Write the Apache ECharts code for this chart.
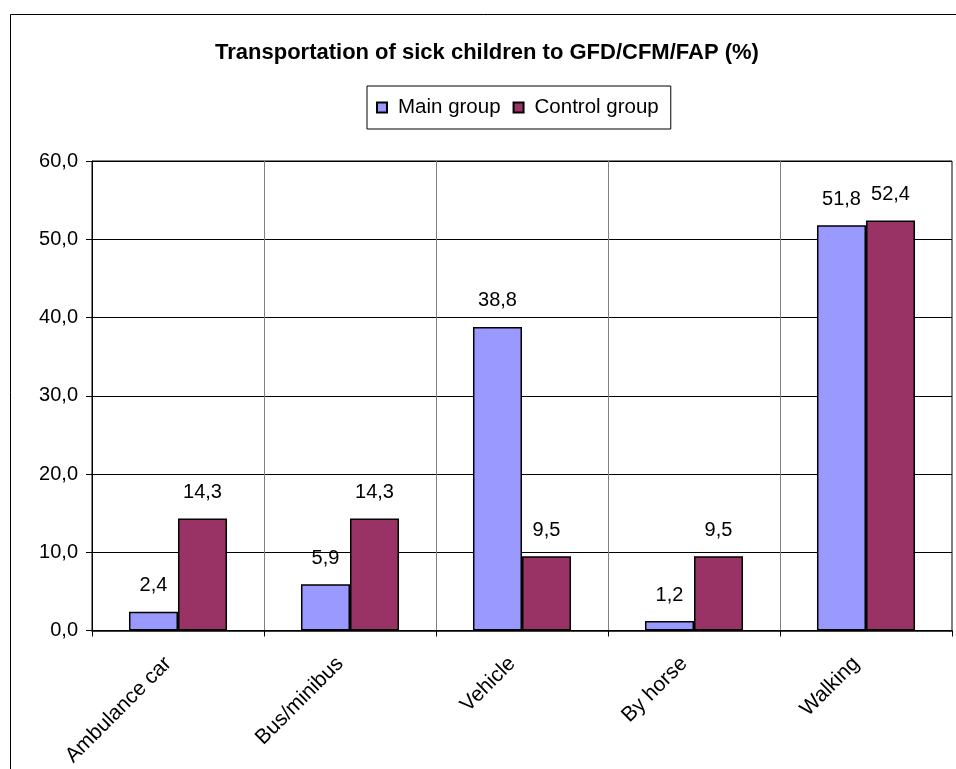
<!DOCTYPE html>
<html>
<head>
<meta charset="utf-8">
<script src="https://cdn.jsdelivr.net/npm/echarts@6/dist/echarts.min.js"></script>
<style>
  html, body { margin: 0; padding: 0; background: #fff; }
  #chart { width: 956px; height: 769px; }
</style>
</head>
<body>
<div id="chart"></div>
<script>
// Transport modes and shares (%) for both groups
const categories = ['Ambulance car', 'Bus/minibus', 'Vehicle', 'By horse', 'Walking'];
const mainGroup = [2.4, 5.9, 38.8, 1.2, 51.8];
const controlGroup = [14.3, 14.3, 9.5, 9.5, 52.4];
const seriesNames = ['Main group', 'Control group'];
const titleText = 'Transportation of sick children to GFD/CFM/FAP (%)';

const FONT = '"Liberation Sans", Arial, sans-serif';
const comma = v => Number(v).toFixed(1).replace('.', ',');

const chart = echarts.init(document.getElementById('chart'), null, { renderer: 'canvas' });

const labelStyle = {
  show: true,
  position: 'top',
  distance: 16,
  fontFamily: FONT,
  fontSize: 20,
  color: '#000',
  formatter: p => comma(p.value)
};

chart.setOption({
  animation: false,
  backgroundColor: '#fff',
  graphic: [{
    type: 'rect',
    shape: { x: 10.5, y: 14.5, width: 1000, height: 900 },
    style: { fill: 'none', stroke: '#000', lineWidth: 1 },
    silent: true,
    z: -10
  }],
  title: {
    text: titleText,
    left: 210,
    top: 37,
    textStyle: { fontFamily: FONT, fontSize: 22, fontWeight: 'bold', color: '#000' }
  },
  legend: {
    left: 367,
    top: 86,
    padding: [11, 12, 11, 9],
    itemGap: 12,
    itemWidth: 10,
    itemHeight: 10,
    borderColor: '#000',
    borderWidth: 1,
    icon: 'rect',
    textStyle: { fontFamily: FONT, fontSize: 20.5, color: '#000', padding: [0, 0, 0, 6] },
    data: seriesNames
  },
  grid: {
    left: 92,
    right: 4,
    top: 161,
    bottom: 138,
    show: true,
    borderColor: '#000',
    borderWidth: 1,
    containLabel: false
  },
  xAxis: {
    type: 'category',
    data: categories,
    boundaryGap: true,
    axisLine: { lineStyle: { color: '#000', width: 1.5 } },
    axisTick: { show: true, alignWithLabel: false, length: 6, lineStyle: { color: '#000' } },
    splitLine: { show: true, lineStyle: { color: '#808080', width: 1 } },
    axisLabel: {
      rotate: 45,
      margin: 20,
      padding: [0, 14, 0, 0],
      fontFamily: FONT,
      fontSize: 21,
      color: '#000',
      interval: 0
    }
  },
  yAxis: {
    type: 'value',
    min: 0,
    max: 60,
    interval: 10,
    axisLine: { show: true, lineStyle: { color: '#000', width: 1 } },
    axisTick: { show: true, length: 6, lineStyle: { color: '#000' } },
    splitLine: { show: true, lineStyle: { color: '#000', width: 1 } },
    axisLabel: {
      margin: 14,
      fontFamily: FONT,
      fontSize: 20,
      color: '#000',
      formatter: v => comma(v)
    }
  },
  series: [
    {
      name: seriesNames[0],
      type: 'bar',
      data: mainGroup,
      barGap: '0%',
      barCategoryGap: '43%',
      itemStyle: { color: '#9999FF', borderColor: '#000', borderWidth: 1.5 },
      label: labelStyle
    },
    {
      name: seriesNames[1],
      type: 'bar',
      data: controlGroup,
      barGap: '0%',
      barCategoryGap: '43%',
      itemStyle: { color: '#993366', borderColor: '#000', borderWidth: 1.5 },
      label: labelStyle
    }
  ]
});
</script>
</body>
</html>
